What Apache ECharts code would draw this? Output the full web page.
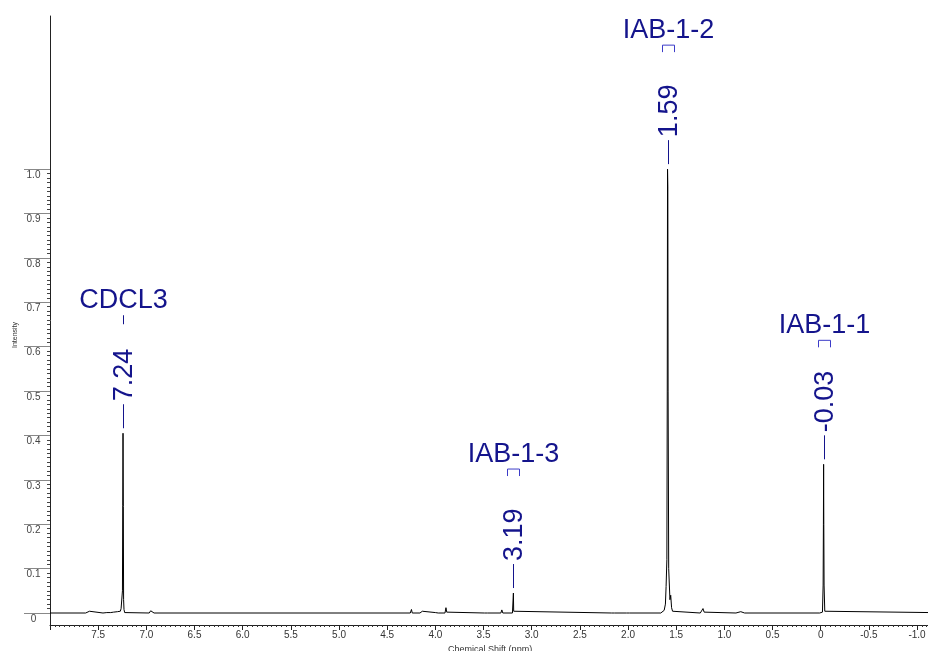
<!DOCTYPE html>
<html>
<head>
<meta charset="utf-8">
<title>NMR spectrum</title>
<script src="https://cdn.jsdelivr.net/npm/echarts@6/dist/echarts.min.js"></script>
<style>
  html, body { margin: 0; padding: 0; background: #fff; }
  #chart { width: 928px; height: 651px; }
</style>
</head>
<body>
<div id="chart"></div>
<script>
// ---- Spectrum (chemical shift in ppm, normalised intensity) ----
const shiftPpm = [
  8.0, 7.63, 7.61, 7.59, 7.57, 7.45, 7.43, 7.41, 7.39, 7.37, 7.355, 7.34, 7.32, 7.30, 7.285, 7.27, 7.262, 7.255,
  7.248, 7.245, 7.242, 7.239, 7.236, 7.232, 7.225, 7.21,
  6.97, 6.955, 6.945, 6.935, 6.92,
  4.26, 4.248, 4.24, 4.16, 4.145, 4.135, 4.12, 4.00, 3.99, 3.98, 3.97, 3.90, 3.89, 3.882, 3.87,
  3.49, 3.475, 3.46, 3.32, 3.31, 3.30, 3.20, 3.193, 3.19, 3.187, 3.18,
  2.17, 2.156, 2.14, 2.015, 2.0, 1.985,
  1.66, 1.64, 1.625, 1.612, 1.605, 1.597, 1.593, 1.590, 1.587, 1.584, 1.578, 1.565, 1.557, 1.548, 1.538, 1.525,
  1.25, 1.232, 1.222, 1.218, 1.21, 1.195,
  0.88, 0.86, 0.83, 0.81, 0.79,
  0.01, -0.018, -0.025, -0.028, -0.030, -0.032, -0.035, -0.042, -0.06,
  -1.5
];
const intensity = [
  0, 0, 0.001, 0.004, 0, 0, 0.002, 0.001, 0, 0.001, 0.004, 0.002, 0.005, 0.003, 0.006, 0.004, 0.010, 0.012,
  0.05, 0.243, 0.405, 0.24, 0.03, 0.008, 0.001, 0,
  0, 0.005, 0.004, 0.002, 0,
  0, 0.008, 0, 0, 0.004, 0.004, 0, 0.001, 0.003, 0.002, 0, 0, 0.012, 0.002, 0,
  0, 0.004, 0, 0, 0.007, 0, 0, 0.004, 0.045, 0.004, 0,
  0, 0.002, 0, 0, 0.003, 0,
  0, 0.002, 0.006, 0.02, 0.06, 0.12, 0.5, 1.0, 0.96, 0.5, 0.1, 0.03, 0.04, 0.012, 0.004, 0,
  0, 0.004, 0.010, 0.008, 0.002, 0,
  0, 0.002, 0.003, 0.002, 0,
  0, 0.002, 0.063, 0.2, 0.335, 0.2, 0.063, 0.004, 0,
  0
];

// ---- Peak annotations ----
const peakShift = [7.24, 3.19, 1.59, -0.03];
const peakTop   = [0.405, 0.045, 1.0, 0.335];
const peakLabel = ['7.24', '3.19', '1.59', '-0.03'];
const peakName  = ['CDCL3', 'IAB-1-3', 'IAB-1-2', 'IAB-1-1'];
const peakMark  = ['dash', 'bracket', 'bracket', 'bracket'];

// ---- Axis tick values ----
const xTicksMin = -1.5, xTicksMax = 8.0, xInterval = 0.5;
const yTicksMin = 0, yTicksMax = 1.0, yInterval = 0.1;

// ---- Layout ----
const FONT = '"Liberation Sans", Arial, Helvetica, sans-serif';
const BLUE = '#14148c';
const W = 928, H = 651;
const gridLeft = 50, gridTop = 16, gridBottomPx = 625;
const pxPerPpm = 96.34;
const gridRight = W - (gridLeft + (xTicksMax - xTicksMin) * pxPerPpm);
const yExtMin = -0.027, yExtMax = 1.345;
const pxPerUnit = (gridBottomPx - gridTop) / (yExtMax - yExtMin);
const yPx = v => gridBottomPx - (v - yExtMin) * pxPerUnit;

const spectrum = shiftPpm.map((s, i) => [s, intensity[i]]);
const annotations = peakShift.map((s, i) => [s, peakTop[i], i]);

function renderPeak(params, api) {
  const i = api.value(2);
  const pt = api.coord([api.value(0), api.value(1)]);
  const x = Math.round(pt[0]) + 0.5;
  const lineBottom = pt[1] - 5;
  const lineTop = lineBottom - 24;
  const children = [
    { type: 'line', shape: { x1: x, y1: lineTop, x2: x, y2: lineBottom },
      style: { stroke: BLUE, lineWidth: 1 } },
    { type: 'text', x: x + 1, y: lineTop - 3, rotation: Math.PI / 2,
      style: { text: peakLabel[i], font: '27px ' + FONT, fill: BLUE,
               align: 'left', verticalAlign: 'middle' } }
  ];
  let nameBase;
  if (peakMark[i] === 'dash') {
    children.push({ type: 'line', shape: { x1: x, y1: lineTop - 89, x2: x, y2: lineTop - 80 },
      style: { stroke: BLUE, lineWidth: 1 } });
    nameBase = lineTop - 95;
  } else {
    const b = lineTop - 88, t = lineTop - 95;
    children.push({ type: 'polyline', shape: { points: [[x - 6, b], [x - 6, t], [x + 6, t], [x + 6, b]] },
      style: { stroke: '#3c3cc8', lineWidth: 1, fill: null } });
    nameBase = lineTop - 101;
  }
  children.push({ type: 'text', x: x, y: nameBase + 5,
    style: { text: peakName[i], font: '27px ' + FONT, fill: BLUE, align: 'center', verticalAlign: 'bottom' } });
  return { type: 'group', children };
}

const fmt = v => (Math.abs(v) < 1e-9 ? '0' : v.toFixed(1));

const chart = echarts.init(document.getElementById('chart'), null, { renderer: 'canvas', width: W, height: H });
chart.setOption({
  animation: false,
  backgroundColor: '#ffffff',
  textStyle: { fontFamily: FONT },
  grid: [
    { left: gridLeft, right: gridRight, top: gridTop, bottom: H - gridBottomPx, outerBoundsMode: 'none', containLabel: false },
    { left: gridLeft, right: gridRight, top: yPx(yTicksMax), bottom: H - yPx(yTicksMin), outerBoundsMode: 'none', containLabel: false }
  ],
  xAxis: [
    {
      gridIndex: 0, type: 'value', inverse: true,
      min: xTicksMin, max: xTicksMax, interval: xInterval,
      axisLine: { show: true, onZero: false, lineStyle: { color: '#222', width: 1 } },
      axisTick: { show: true, inside: false, length: 5, lineStyle: { color: '#222' } },
      minorTick: { show: true, splitNumber: 10, length: 2, lineStyle: { color: '#333' } },
      axisLabel: { fontSize: 10, color: '#333', margin: 5,
        formatter: v => (v >= xTicksMax - 1e-9 || v <= xTicksMin + 1e-9) ? '' : fmt(v) },
      splitLine: { show: false },
      name: 'Chemical Shift (ppm)', nameLocation: 'middle', nameGap: 17,
      nameTextStyle: { fontSize: 9, color: '#333', padding: [0, 35, 0, 0] }
    },
    { gridIndex: 1, type: 'value', inverse: true, min: xTicksMin, max: xTicksMax, show: false }
  ],
  yAxis: [
    {
      gridIndex: 0, type: 'value', min: yExtMin, max: yExtMax,
      axisLine: { show: true, onZero: false, lineStyle: { color: '#222', width: 1 } },
      axisTick: { show: false }, axisLabel: { show: false }, splitLine: { show: false },
      name: 'Intensity', nameLocation: 'middle', nameGap: 31, nameRotate: 90,
      nameTextStyle: { fontSize: 7, color: '#333', padding: [0, 29, 0, 0] }
    },
    {
      gridIndex: 1, type: 'value', min: yTicksMin, max: yTicksMax, interval: yInterval,
      axisLine: { show: false, onZero: false },
      axisTick: { show: true, inside: false, length: 26, lineStyle: { color: '#888' } },
      minorTick: { show: true, splitNumber: 10, length: 3, lineStyle: { color: '#444' } },
      axisLabel: { fontSize: 10, color: '#444', align: 'center', verticalAlign: 'top', margin: 16.5,
        padding: [1, 0, 0, 0], formatter: fmt },
      splitLine: { show: false }
    }
  ],
  series: [
    {
      type: 'line', xAxisIndex: 0, yAxisIndex: 0, data: spectrum,
      showSymbol: false, symbol: 'none', silent: true,
      lineStyle: { color: '#000', width: 1 }, z: 3
    },
    {
      type: 'custom', xAxisIndex: 0, yAxisIndex: 0, data: annotations,
      renderItem: renderPeak, clip: false, silent: true, z: 4
    }
  ]
});
</script>
</body>
</html>
